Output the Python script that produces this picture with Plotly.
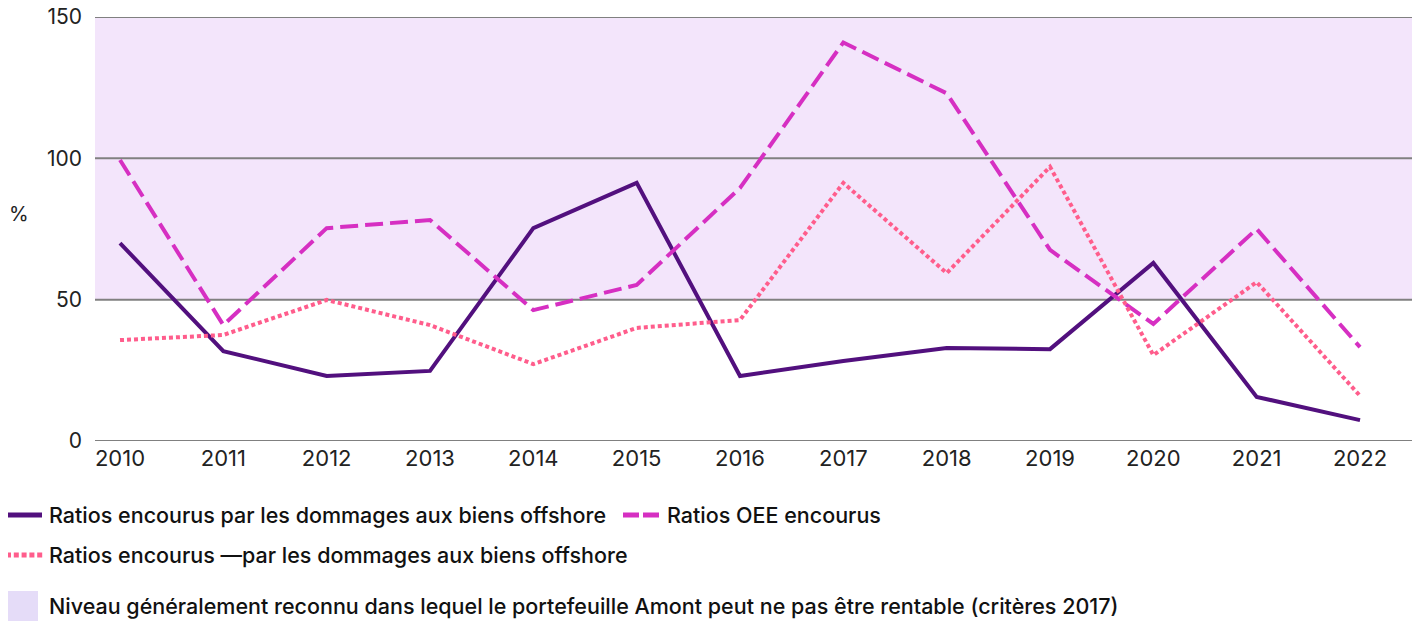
import plotly.graph_objects as go

years = [2010, 2011, 2012, 2013, 2014, 2015, 2016, 2017, 2018, 2019, 2020, 2021, 2022]
ratios_dommages = [70, 31.8, 23, 24.8, 75.3, 91.3, 23, 28.3, 32.9, 32.5, 63, 15.6, 7.4]
ratios_oee = [99.4, 41, 75.3, 78.2, 46.3, 55.2, 89.5, 141, 123, 67.6, 41.4, 75, 33.2]
ratios_dommages2 = [35.7, 37.5, 49.9, 41, 27.2, 40, 42.8, 91.3, 59.4, 97, 30.4, 56.2, 16]
y_ticks = [0, 50, 100, 150]
band = [50, 150]

names = [
    "Ratios encourus par les dommages aux biens offshore",
    "Ratios OEE encourus",
    "Ratios encourus —par les dommages aux biens offshore",
    "Niveau généralement reconnu dans lequel le portefeuille Amont peut ne pas être rentable (critères 2017)",
]
c_purple = "#52107e"
c_magenta = "#d62fc2"
c_pink = "#ff5d8c"
c_band = "#f3e5fb"
c_band_legend = "#e5dcf8"
FONT = "Inter"

# page offset (body margin) compensation
OFF = 8
W, H = 1422, 621
L, T = 95 - OFF, 17 - OFF
RIGHT, BOTTOM = 1412 - OFF, 441 - OFF
R, B = W - RIGHT, H - BOTTOM
pw, ph = W - L - R, H - T - B


def px(x):
    return (x - OFF - L) / pw


def py(y):
    return (H - B - (y - OFF)) / ph


fig = go.Figure()
fig.add_trace(go.Scatter(x=years, y=ratios_dommages, mode="lines", name=names[0],
                         line=dict(color=c_purple, width=4)))
fig.add_trace(go.Scatter(x=years, y=ratios_oee, mode="lines", name=names[1],
                         line=dict(color=c_magenta, width=4, dash="18px,7px")))
fig.add_trace(go.Scatter(x=years, y=ratios_dommages2, mode="lines", name=names[2],
                         line=dict(color=c_pink, width=4, dash="4px,3px")))

fig.add_shape(type="rect", xref="paper", yref="y", x0=0, x1=1, y0=band[0], y1=band[1],
              fillcolor=c_band, line=dict(width=0), layer="below")
for v in y_ticks:
    fig.add_shape(type="line", xref="paper", yref="y", x0=0, x1=1, y0=v, y1=v,
                  line=dict(color="#808080", width=2), layer="between")

legend_font = dict(family=FONT, size=21.5, color="#111", weight=500)
legend_items = [
    (5, 42, 515, c_purple, "solid", 47, names[0]),
    (623, 659, 515, c_magenta, "16px,4px", 665, names[1]),
    (6, 43, 555, c_pink, "5px,2.8px", 47, names[2]),
]
for x0, x1, yy, col, dash, tx, txt in legend_items:
    fig.add_shape(type="line", xref="paper", yref="paper", x0=px(x0), x1=px(x1),
                  y0=py(yy), y1=py(yy), line=dict(color=col, width=5, dash=dash))
    fig.add_annotation(xref="paper", yref="paper", x=px(tx), y=py(yy), text=txt,
                       showarrow=False, xanchor="left", yanchor="middle",
                       font=legend_font)
fig.add_shape(type="rect", xref="paper", yref="paper", x0=px(8), x1=px(38),
              y0=py(621), y1=py(591), fillcolor=c_band_legend, line=dict(width=0))
fig.add_annotation(xref="paper", yref="paper", x=px(47), y=py(606), text=names[3],
                   showarrow=False, xanchor="left", yanchor="middle",
                   font=legend_font)
fig.add_annotation(xref="paper", yref="paper", x=px(7), y=py(214), text="%",
                   showarrow=False, xanchor="left", yanchor="middle",
                   font=dict(family=FONT, size=20, color="#222"))

fig.update_layout(
    width=W, height=H,
    margin=dict(l=L, r=R, t=T, b=B, autoexpand=False),
    paper_bgcolor="white", plot_bgcolor="white",
    showlegend=False,
    font=dict(family=FONT, size=21, color="#222"),
)
fig.update_xaxes(range=[2009.758, 2022.503], tickmode="array", tickvals=years,
                 ticktext=[str(y) for y in years], showgrid=False, zeroline=False,
                 showline=False, ticks="", tickfont=dict(size=22), ticklabelstandoff=2,
                 ticklabeloverflow="allow", automargin=False)
fig.update_yaxes(range=[0, 150], tickmode="array", tickvals=y_ticks, showgrid=False,
                 zeroline=False, showline=False, ticks="", tickfont=dict(size=21),
                 ticklabelstandoff=12, ticklabeloverflow="allow", automargin=False)

fig.write_html("out.html")
